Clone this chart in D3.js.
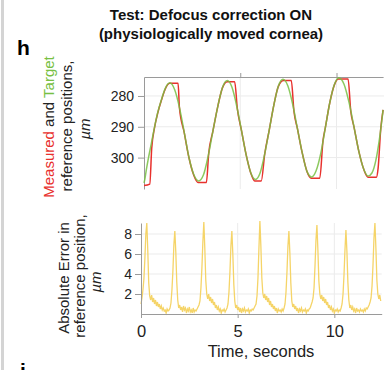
<!DOCTYPE html>
<html>
<head>
<meta charset="utf-8">
<script src="https://cdn.jsdelivr.net/npm/d3@7/dist/d3.min.js"></script>
<style>
  body { margin: 0; background: #fff; }
  svg { font-family: "Liberation Sans", Arial, sans-serif; display: block; }
  .axis path, .axis line { stroke: #9a9a9a; }
  .axis text { fill: #222; }
</style>
</head>
<body>
<div id="chart"></div>
<script>
// target reference position (green), [time s, position um]
var targetPos = [
  [0, 308.2], [0.05, 306.8], [0.12, 304.0], [0.21, 300.8], [0.38, 295.5], [0.55, 290.0], [0.72, 285.2], [0.90, 281.3], [1.10, 277.6], [1.34, 275.7],
  [1.59, 277.9], [1.84, 283.7], [2.09, 291.8], [2.33, 299.8], [2.59, 305.6], [2.84, 307.6],
  [3.09, 305.6], [3.33, 299.6], [3.58, 291.4], [3.84, 283.2], [4.08, 277.2], [4.33, 275.0],
  [4.57, 277.2], [4.81, 283.1], [5.06, 291.1], [5.31, 299.2], [5.55, 305.0], [5.79, 307.1],
  [6.03, 305.0], [6.26, 299.1], [6.51, 290.9], [6.75, 282.8], [6.98, 276.8], [7.22, 274.6],
  [7.47, 276.7], [7.72, 282.6], [7.97, 290.6], [8.22, 298.5], [8.46, 304.4], [8.71, 306.3],
  [8.94, 304.3], [9.19, 298.4], [9.42, 290.3], [9.65, 282.2], [9.89, 276.3], [10.12, 274.1],
  [10.39, 276.2], [10.65, 282.1], [10.91, 290.1], [11.16, 298.0], [11.42, 303.9], [11.64, 306.0],
  [11.84, 305.0], [12.04, 301.0], [12.24, 293.5], [12.42, 284.5]
];

// measured reference position (red)
var measuredPos = [
  [0, 309.1], [0.30, 308.6], [0.40, 297.0], [0.55, 290.2], [0.72, 285.4], [0.90, 281.5], [1.10, 277.8], [1.34, 275.9], [1.77, 275.9],
  [1.84, 283.8], [2.09, 291.9], [2.33, 299.9], [2.59, 305.8], [2.81, 308.1], [3.24, 308.1],
  [3.36, 298.7], [3.58, 291.4], [3.84, 283.2], [4.08, 277.3], [4.33, 275.4], [4.71, 275.4],
  [4.85, 284.2], [5.06, 291.1], [5.31, 299.2], [5.55, 305.1], [5.75, 307.6], [6.09, 307.6],
  [6.27, 298.9], [6.51, 290.9], [6.75, 282.8], [6.98, 276.9], [7.25, 275.0], [7.65, 275.0],
  [7.79, 285.0], [7.97, 290.6], [8.22, 298.5], [8.46, 304.4], [8.69, 306.7], [9.13, 306.7],
  [9.30, 294.4], [9.42, 290.3], [9.65, 282.2], [9.89, 276.4], [10.10, 274.5], [10.60, 274.5],
  [10.74, 284.9], [10.91, 290.1], [11.16, 298.0], [11.42, 303.9], [11.64, 306.4], [12.07, 306.4],
  [12.16, 303.5], [12.30, 290.5], [12.42, 284.5]
];

// absolute error (yellow), one sample every 0.05 s from t = 0
var errorStep = 0.05;
var errorValues = [
  1.0, 1.6, 2.4, 3.5, 5.5, 8.0, 9.1, 6.4, 3.1, 1.8,
  1.4, 1.9, 1.2, 1.6, 1.0, 1.4, 0.8, 1.2, 0.7, 1.0,
  0.5, 0.8, 0.4, 0.6, 0.3, 0.4, 0.1, 0.5, 0.3, 0.4,
  0.6, 1.1, 2.4, 4.3, 6.9, 8.3, 6.2, 3.2, 1.4, 0.6,
  0.9, 0.4, 0.7, 0.2, 0.8, 0.4, 0.6, 0.1, 0.5, 0.3,
  0.7, 0.2, 0.4, 0.1, 0.6, 0.2, 0.4, 0.3, 0.5, 0.7,
  0.9, 1.3, 2.6, 4.6, 7.2, 9.2, 6.6, 3.4, 2.0, 1.5,
  2.0, 1.3, 1.7, 1.1, 1.5, 0.9, 1.2, 0.6, 0.9, 0.4,
  0.7, 0.3, 0.5, 0.1, 0.4, 0.3, 0.5, 0.2, 0.4, 0.6,
  1.0, 2.2, 4.2, 6.8, 8.3, 6.0, 3.0, 1.3, 0.6, 0.9,
  0.4, 0.7, 0.2, 0.6, 0.1, 0.5, 0.3, 0.6, 0.2, 0.4,
  0.3, 0.5, 0.1, 0.4, 0.3, 0.5, 0.4, 0.6, 0.8, 1.0,
  1.8, 3.6, 6.6, 9.3, 6.8, 3.6, 2.1, 1.6, 2.0, 1.4,
  1.8, 1.2, 1.6, 0.9, 1.3, 0.7, 1.0, 0.5, 0.8, 0.3,
  0.6, 0.1, 0.5, 0.3, 0.4, 0.2, 0.5, 0.3, 0.6, 1.0,
  2.2, 4.2, 6.8, 8.3, 6.1, 3.1, 1.3, 0.7, 1.0, 0.5,
  0.8, 0.3, 0.6, 0.1, 0.5, 0.3, 0.6, 0.2, 0.4, 0.3,
  0.5, 0.1, 0.4, 0.3, 0.5, 0.6, 0.9, 1.2, 1.6, 2.6,
  4.8, 7.4, 8.9, 6.4, 3.3, 2.0, 1.5, 1.9, 1.3, 1.7,
  1.1, 1.5, 0.9, 1.2, 0.6, 0.9, 0.4, 0.7, 0.3, 0.5,
  0.1, 0.4, 0.3, 0.5, 0.2, 0.4, 0.3, 0.6, 1.0, 2.0,
  3.9, 6.4, 8.4, 6.3, 3.2, 1.4, 0.6, 0.9, 0.4, 0.7,
  0.3, 0.5, 0.1, 0.6, 0.3, 0.4, 0.2, 0.5, 0.3, 0.4,
  0.2, 0.5, 0.3, 0.6, 0.5, 0.7, 0.9, 1.2, 1.6, 2.8,
  4.9, 7.6, 9.1, 6.6, 3.4, 2.0, 1.5, 1.9, 1.3
];

var posTicks = [280, 290, 300];
var errTicks = [2, 4, 6, 8];
var timeTicks = [0, 5, 10];
var gridTimes = [5, 10];

var red = '#e8312d', green = '#78c043', yellow = '#f5d468', grid = '#ebebeb';

var svg = d3.select('#chart').append('svg')
  .attr('width', 384).attr('height', 370);

// panel frame on the left
svg.append('rect').attr('x', 1).attr('y', 0).attr('width', 3).attr('height', 370).attr('fill', '#d4d4d4');

// title
var title = svg.append('text').attr('text-anchor', 'middle')
  .attr('font-weight', 'bold').attr('font-size', '15px').attr('fill', '#111');
title.append('tspan').attr('x', 211).attr('y', 19.5).text('Test: Defocus correction ON');
title.append('tspan').attr('x', 211).attr('y', 39).text('(physiologically moved cornea)');

svg.append('text').attr('x', 17).attr('y', 55).attr('font-weight', 'bold').attr('font-size', '21px').text('h');
svg.append('text').attr('x', 20).attr('y', 378).attr('font-weight', 'bold').attr('font-size', '21px').text('i');

// ---- top panel: positions
var xTop = d3.scaleLinear().domain([0, 12.42]).range([144, 383.1]);
var yTop = d3.scaleLinear().domain([273.84, 310.2]).range([77, 189]);

svg.append('g').selectAll('line').data(posTicks).enter().append('line')
  .attr('x1', 144).attr('x2', 384)
  .attr('y1', function(d) { return yTop(d); }).attr('y2', function(d) { return yTop(d); })
  .attr('stroke', grid);
svg.append('g').selectAll('line').data(gridTimes).enter().append('line')
  .attr('x1', function(d) { return xTop(d); }).attr('x2', function(d) { return xTop(d); })
  .attr('y1', 77).attr('y2', 189)
  .attr('stroke', grid);

svg.append('g').attr('class', 'axis').attr('transform', 'translate(0,77)')
  .call(d3.axisTop(xTop).tickValues(gridTimes).tickSize(4).tickSizeOuter(0).tickFormat(''));
svg.append('g').attr('class', 'axis').attr('transform', 'translate(144,0)')
  .call(d3.axisLeft(yTop).tickValues(posTicks).tickSize(6).tickPadding(4).tickSizeOuter(0))
  .selectAll('text').attr('font-size', '14px');

var posLine = d3.line()
  .x(function(d) { return xTop(d[0]); })
  .y(function(d) { return yTop(d[1]); })
  .curve(d3.curveMonotoneX);

svg.append('path').datum(measuredPos).attr('d', posLine)
  .attr('fill', 'none').attr('stroke', red).attr('stroke-width', 1.5);
svg.append('path').datum(targetPos).attr('d', posLine)
  .attr('fill', 'none').attr('stroke', green).attr('stroke-width', 1.5).attr('stroke-opacity', 0.85);

// top y label
var lab1 = svg.append('g').attr('font-size', '15px').attr('text-anchor', 'middle').attr('fill', '#222');
var l1 = lab1.append('text').attr('transform', 'translate(54,127) rotate(-90)');
l1.append('tspan').attr('fill', red).text('Measured');
l1.append('tspan').text(' and ');
l1.append('tspan').attr('fill', green).text('Target');
lab1.append('text').attr('transform', 'translate(72,126) rotate(-90)').text('reference positions,');
lab1.append('text').attr('transform', 'translate(90,129) rotate(-90)').attr('font-style', 'italic').text('\u00b5m');

// ---- bottom panel: absolute error
var xBot = d3.scaleLinear().domain([0, 12.45]).range([141, 381.7]);
var yBot = d3.scaleLinear().domain([0, 9.1]).range([314, 223]);

svg.append('g').selectAll('line').data(errTicks).enter().append('line')
  .attr('x1', 141).attr('x2', 381.7)
  .attr('y1', function(d) { return yBot(d); }).attr('y2', function(d) { return yBot(d); })
  .attr('stroke', grid);
svg.append('g').selectAll('line').data(gridTimes).enter().append('line')
  .attr('x1', function(d) { return xBot(d); }).attr('x2', function(d) { return xBot(d); })
  .attr('y1', 223).attr('y2', 314)
  .attr('stroke', grid);

var errLine = d3.line()
  .x(function(d, i) { return xBot(i * errorStep); })
  .y(function(d) { return yBot(d); });

svg.append('path').datum(errorValues).attr('d', errLine)
  .attr('fill', 'none').attr('stroke', yellow).attr('stroke-width', 1.3);

svg.append('g').attr('class', 'axis').attr('transform', 'translate(0,314)')
  .call(d3.axisBottom(xBot).tickValues(timeTicks).tickSize(4).tickPadding(7).tickSizeOuter(0))
  .selectAll('text').attr('font-size', '16.5px');
svg.append('g').attr('class', 'axis').attr('transform', 'translate(141,0)')
  .call(d3.axisLeft(yBot).tickValues(errTicks).tickSize(6).tickPadding(3).tickSizeOuter(0))
  .selectAll('text').attr('font-size', '14px');

svg.append('text').attr('x', 261).attr('y', 356.5).attr('text-anchor', 'middle')
  .attr('font-size', '16.5px').attr('fill', '#222').text('Time, seconds');

var lab2 = svg.append('g').attr('font-size', '15px').attr('text-anchor', 'middle').attr('fill', '#222');
lab2.append('text').attr('transform', 'translate(69,278) rotate(-90)').text('Absolute Error in');
lab2.append('text').attr('transform', 'translate(85,276) rotate(-90)').text('reference position,');
lab2.append('text').attr('transform', 'translate(101,282) rotate(-90)').attr('font-style', 'italic').text('\u00b5m');
</script>
</body>
</html>
